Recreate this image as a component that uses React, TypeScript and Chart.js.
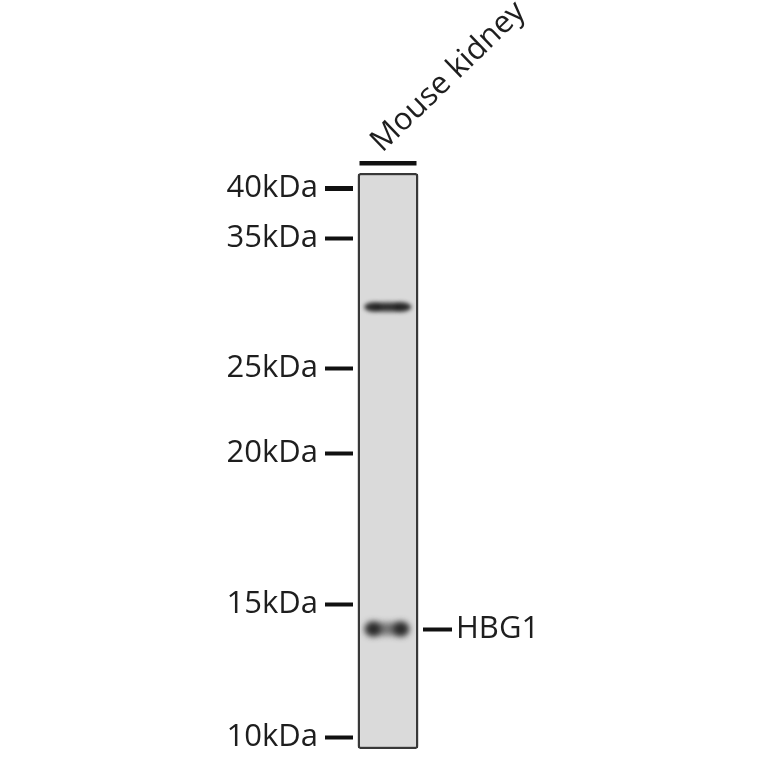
import { useEffect, useRef } from "react";
import { Chart, registerables, type Plugin } from "chart.js";

Chart.register(...registerables);

// ── Blot data (migration distance from top of lane, px-like units) ───────────
const LANES = ["Mouse kidney"];
const LANE_RANGE = [0, 576];
const MARKER_LABELS = ["40kDa", "35kDa", "25kDa", "20kDa", "15kDa", "10kDa"];
const MARKER_POS = [15, 65, 195, 280, 431, 564];
const BAND_POS = [134, 456];
const BAND_STRENGTH = [0.92, 0.88];
const TARGET_LABELS = ["HBG1"];
const TARGET_POS = [456];

const FONT = { family: "'Open Sans', 'Noto Sans', sans-serif", size: 31 };
const INK = "#1e1e1e";

// scales keep their own edge padding out of the layout
const noPad = (s: any) => {
  s.paddingTop = 0;
  s.paddingBottom = 0;
  s.paddingLeft = 0;
  s.paddingRight = 0;
};

// ── Bands drawn on the lane through the y scale ──────────────────────────────
const bandPlugin: Plugin = {
  id: "bands",
  afterDatasetsDraw(chart) {
    const { ctx } = chart;
    const y = chart.scales.y;
    const bar: any = chart.getDatasetMeta(0).data[0];
    if (!bar) return;
    const { x, width } = bar.getProps(["x", "width"], true);
    ctx.save();
    ctx.beginPath();
    ctx.rect(x - width / 2 + 2, y.top + 2, width - 4, y.bottom - y.top - 4);
    ctx.clip();

    BAND_POS.forEach((pos, i) => {
      const cy = y.getPixelForValue(pos);
      const a = BAND_STRENGTH[i];
      if (i === 0) {
        // thin smear, slightly heavier ends
        ctx.filter = "blur(2px)";
        ctx.fillStyle = `rgba(30,30,30,${a})`;
        ctx.beginPath();
        ctx.ellipse(x, cy, 23.5, 4.6, 0, 0, Math.PI * 2);
        ctx.fill();
        ctx.fillStyle = `rgba(20,20,20,${a * 0.5})`;
        [-15, 14].forEach((dx) => {
          ctx.beginPath();
          ctx.ellipse(x + dx, cy, 8, 4.8, 0, 0, Math.PI * 2);
          ctx.fill();
        });
      } else {
        // doublet
        ctx.filter = "blur(3px)";
        ctx.fillStyle = `rgba(75,75,75,${a * 0.8})`;
        ctx.beginPath();
        ctx.ellipse(x - 1, cy, 21, 6.5, 0, 0, Math.PI * 2);
        ctx.fill();
        ctx.fillStyle = `rgba(30,30,30,${a})`;
        [-15, 13].forEach((dx) => {
          ctx.beginPath();
          ctx.ellipse(x + dx, cy, 8, 7.5, 0, 0, Math.PI * 2);
          ctx.fill();
        });
      }
    });
    ctx.restore();
  },
  afterDraw(chart) {
    // sample bar above the lane
    const { ctx, chartArea } = chart;
    const bar: any = chart.getDatasetMeta(0).data[0];
    if (!bar) return;
    const { x } = bar.getProps(["x"], true);
    ctx.save();
    ctx.fillStyle = "#111";
    ctx.fillRect(x - 28.5, chartArea.top - 12, 57, 4.5);
    ctx.restore();
  },
};

export default function App() {
  const canvasRef = useRef<HTMLCanvasElement>(null);

  useEffect(() => {
    const canvas = canvasRef.current;
    if (!canvas) return;

    const chart = new Chart(canvas, {
      type: "bar",
      plugins: [bandPlugin],
      data: {
        labels: LANES,
        datasets: [
          {
            data: LANES.map(() => [LANE_RANGE[0], LANE_RANGE[1]] as any),
            backgroundColor: "#dadada",
            borderColor: "#383838",
            borderWidth: 2.5,
            borderRadius: 3,
            borderSkipped: false,
            barPercentage: 0.87,
            categoryPercentage: 1,
            yAxisID: "y",
          },
        ],
      },
      options: {
        responsive: true,
        maintainAspectRatio: false,
        animation: false,
        layout: { padding: { top: 0, left: 0, right: 0, bottom: 15 } },
        plugins: { legend: { display: false }, tooltip: { enabled: false } },
        scales: {
          x: {
            position: "top",
            grid: { display: false, drawTicks: false },
            border: { display: false },
            ticks: {
              color: INK,
              font: FONT,
              minRotation: 44,
              maxRotation: 44,
              padding: 13,
              labelOffset: 14,
            },
            afterFit: (s: any) => { noPad(s); s.height = 173; },
          },
          y: {
            position: "left",
            min: LANE_RANGE[0],
            max: LANE_RANGE[1],
            reverse: true,
            border: { display: false },
            grid: {
              drawOnChartArea: false,
              drawTicks: true,
              tickLength: 28,
              tickWidth: (c: any) => (c.index === 0 ? 5 : 4),
              tickColor: "#111",
            },
            afterBuildTicks: (s: any) => { s.ticks = MARKER_POS.map((v) => ({ value: v })); },
            ticks: {
              autoSkip: false,
              color: INK,
              font: FONT,
              padding: 7,
              callback: (v: any) => MARKER_LABELS[MARKER_POS.indexOf(Number(v))] ?? "",
            },
            afterFit: (s: any) => { noPad(s); s.width = 353; },
          },
          y2: {
            position: "right",
            min: LANE_RANGE[0],
            max: LANE_RANGE[1],
            reverse: true,
            border: { display: false },
            grid: {
              drawOnChartArea: false,
              drawTicks: true,
              tickLength: 29,
              tickWidth: 4,
              tickColor: "#111",
            },
            afterBuildTicks: (s: any) => { s.ticks = TARGET_POS.map((v) => ({ value: v })); },
            ticks: {
              autoSkip: false,
              color: INK,
              font: FONT,
              padding: 4,
              callback: (v: any) => TARGET_LABELS[TARGET_POS.indexOf(Number(v))] ?? "",
            },
            afterFit: (s: any) => { noPad(s); s.width = 764 - 423; },
          },
        },
      },
    });

    return () => chart.destroy();
  }, []);

  return (
    <div style={{ position: "fixed", top: 0, left: 0, width: 764, height: 764, background: "#fff" }}>
      <canvas ref={canvasRef} />
    </div>
  );
}
